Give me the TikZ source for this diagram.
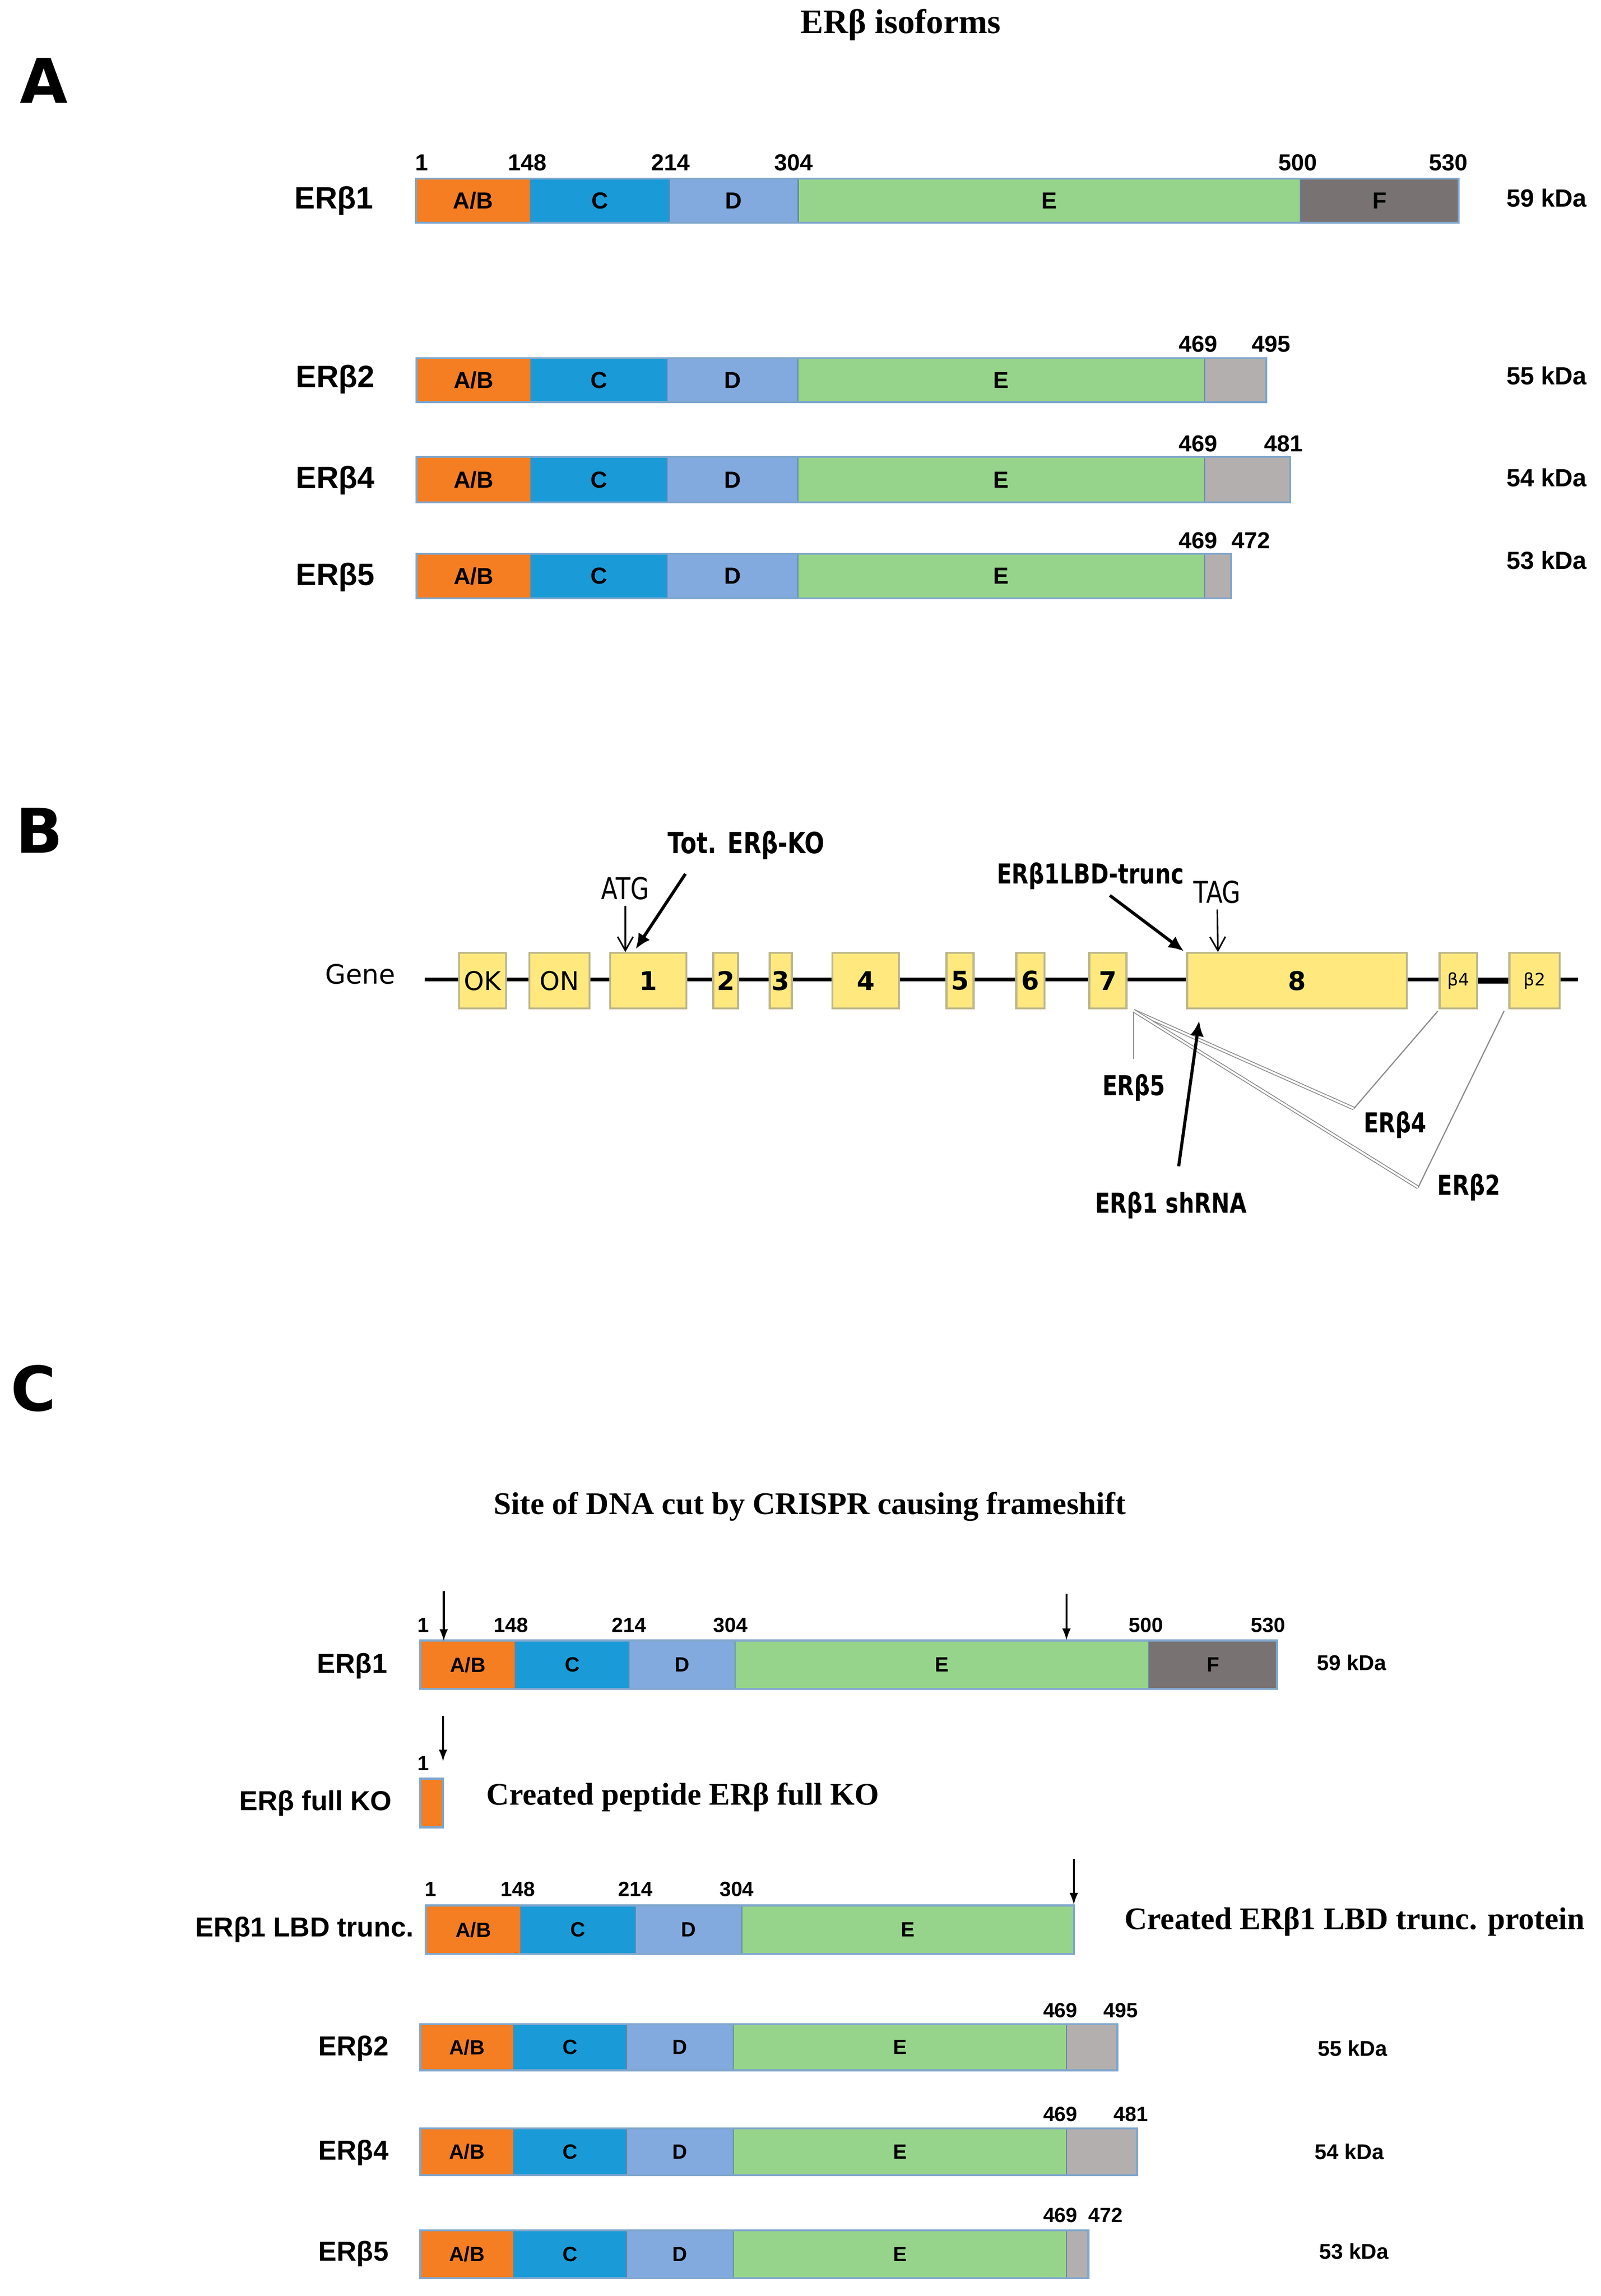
\documentclass[tikz,border=0pt]{standalone}
\usepackage{fontspec}
\usepackage{tikz}
\usetikzlibrary{arrows.meta}
\newfontfamily\arialfont{Liberation Sans}
\newfontfamily\timesfont{Liberation Serif}
\newfontfamily\dvfont{DejaVu Sans}
\newfontfamily\dvcond[FakeStretch=0.8]{DejaVu Sans}
\definecolor{abcol}{HTML}{F57E22}
\definecolor{ccol}{HTML}{1A9BD7}
\definecolor{dcol}{HTML}{83AADE}
\definecolor{ecol}{HTML}{97D48B}
\definecolor{fcol}{HTML}{787272}
\definecolor{tailcol}{HTML}{B4AFAF}
\definecolor{barline}{HTML}{7FA6CC}
\definecolor{segline}{HTML}{5F86A8}
\definecolor{exonfill}{HTML}{FFE97F}
\definecolor{exonline}{HTML}{BDB68A}
\definecolor{splicegray}{HTML}{8C8C8C}

\begin{document}
\begin{tikzpicture}[x=0.03cm, y=-0.03cm,
	seg/.style={draw=segline, line width=0.6pt},
	frame/.style={draw=barline, line width=1.2pt},
	exon/.style={draw=exonline, fill=exonfill, line width=1.2pt},
	letter/.style={font=\dvfont\bfseries\fontsize{36}{40}\selectfont},
	serif/.style={font=\timesfont\bfseries\fontsize{18.3}{20}\selectfont},
	segA/.style={font=\arialfont\bfseries\fontsize{13.5}{15}\selectfont},
	numA/.style={font=\arialfont\bfseries\fontsize{13.5}{15}\selectfont},
	isoA/.style={font=\arialfont\bfseries\fontsize{18}{20}\selectfont},
	kdaA/.style={font=\arialfont\bfseries\fontsize{14.5}{16}\selectfont},
	segC/.style={font=\arialfont\bfseries\fontsize{12}{14}\selectfont},
	numC/.style={font=\arialfont\bfseries\fontsize{12}{14}\selectfont},
	isoC/.style={font=\arialfont\bfseries\fontsize{16}{18}\selectfont},
	kdaC/.style={font=\arialfont\bfseries\fontsize{12.5}{14}\selectfont},
	gtxt/.style={font=\dvcond\fontsize{17.5}{19}\selectfont},
	gbold/.style={font=\dvcond\bfseries\fontsize{16}{18}\selectfont},
	thinarr/.style={-{Straight Barb[length=8pt,width=9pt]}, line width=0.9pt},
	thickarr/.style={-{Latex[length=9pt,width=8pt]}, line width=1.8pt},
	cutarr/.style={-{Latex[length=7pt,width=5pt]}, line width=1.1pt},
	splice/.style={draw=splicegray, line width=0.7pt},
	splicedbl/.style={draw=splicegray, line width=0.5pt, double=white, double distance=1.1pt}]
	\useasboundingbox (0,0) rectangle (1093,1567.5);

	%%%%%%%%%%%%%%%% PANEL A %%%%%%%%%%%%%%%%
	\node[letter] (lettA) at (30,55) {A};
	\node[serif, font=\timesfont\bfseries\fontsize{20}{22}\selectfont] (titleA) at (615,17) {ERβ isoforms};
	%
	% ERb1
	\draw[seg, fill=abcol] (284,122) rectangle node[segA] (a1ab) {A/B} (362,152);
	\draw[seg, fill=ccol] (362,122) rectangle node[segA] (a1c) {C} (457,152);
	\draw[seg, fill=dcol] (457,122) rectangle node[segA] (a1d) {D} (545,152);
	\draw[seg, fill=ecol] (545,122) rectangle node[segA] (a1e) {E} (888,152);
	\draw[seg, fill=fcol] (888,122) rectangle node[segA] (a1f) {F} (996,152);
	\draw[frame] (284,122) rectangle (996,152);
	\node[numA] (a1n1) at (288,111) {1};
	\node[numA] (a1n148) at (360,111) {148};
	\node[numA] (a1n214) at (458,111) {214};
	\node[numA] (a1n304) at (542,111) {304};
	\node[numA] (a1n500) at (886,111) {500};
	\node[numA] (a1n530) at (989,111) {530};
	\node[isoA] (a1name) at (228,137) {ERβ1};
	\node[kdaA] (a1kda) at (1056,135) {59 kDa};
	%
	% ERb2
	\draw[seg, fill=abcol] (284.5,244.5) rectangle node[segA] (a2ab) {A/B} (362.4,274.5);
	\draw[seg, fill=ccol] (362.4,244.5) rectangle node[segA] (a2c) {C} (455.5,274.5);
	\draw[seg, fill=dcol] (455.5,244.5) rectangle node[segA] (a2d) {D} (544.8,274.5);
	\draw[seg, fill=ecol] (544.8,244.5) rectangle node[segA] (a2e) {E} (822.5,274.5);
	\draw[seg, fill=tailcol] (822.5,244.5) rectangle (864.4,274.5);
	\draw[frame] (284.5,244.5) rectangle (864.4,274.5);
	\node[numA] (a2n469) at (818,235) {469};
	\node[numA] (a2n495) at (868,235) {495};
	\node[isoA] (a2name) at (229,259) {ERβ2};
	\node[kdaA] (a2kda) at (1056,256.5) {55 kDa};
	%
	% ERb4
	\draw[seg, fill=abcol] (284.5,312) rectangle node[segA] (a4ab) {A/B} (362.4,343);
	\draw[seg, fill=ccol] (362.4,312) rectangle node[segA] (a4c) {C} (455.5,343);
	\draw[seg, fill=dcol] (455.5,312) rectangle node[segA] (a4d) {D} (544.8,343);
	\draw[seg, fill=ecol] (544.8,312) rectangle node[segA] (a4e) {E} (822.5,343);
	\draw[seg, fill=tailcol] (822.5,312) rectangle (881,343);
	\draw[frame] (284.5,312) rectangle (881,343);
	\node[numA] (a4n469) at (818,303) {469};
	\node[numA] (a4n481) at (876.5,303) {481};
	\node[isoA] (a4name) at (229,328) {ERβ4};
	\node[kdaA] (a4kda) at (1056,326) {54 kDa};
	%
	% ERb5
	\draw[seg, fill=abcol] (284.5,378) rectangle node[segA] (a5ab) {A/B} (362.4,408.5);
	\draw[seg, fill=ccol] (362.4,378) rectangle node[segA] (a5c) {C} (455.5,408.5);
	\draw[seg, fill=dcol] (455.5,378) rectangle node[segA] (a5d) {D} (544.8,408.5);
	\draw[seg, fill=ecol] (544.8,378) rectangle node[segA] (a5e) {E} (822.5,408.5);
	\draw[seg, fill=tailcol] (822.5,378) rectangle (840.5,408.5);
	\draw[frame] (284.5,378) rectangle (840.5,408.5);
	\node[numA] (a5n469) at (818,369) {469};
	\node[numA] (a5n472) at (854,369) {472};
	\node[isoA] (a5name) at (229,394) {ERβ5};
	\node[kdaA] (a5kda) at (1056,382.5) {53 kDa};

	%%%%%%%%%%%%%%%% PANEL B %%%%%%%%%%%%%%%%
	\node[letter] (lettB) at (27,567) {B};
	\node[font=\dvfont\fontsize{15.5}{17}\selectfont] (gene) at (246,665) {Gene};
	%
	% gene backbone
	\coordinate (gstart) at (290,668.6);
	\coordinate (gend) at (1077.6,668.6);
	\draw[line width=2.2pt] (gstart) -- (gend);
	\draw[line width=3.2pt] (1008.5,669.5) -- (1030.6,669.5); % thicker intron
	%
	% exons
	\draw[exon] (313.5,650.5) rectangle node[font=\dvfont\fontsize{15}{17}\selectfont] (exok) {OK} (345.5,688.5);
	\draw[exon] (361.5,650.5) rectangle node[font=\dvfont\fontsize{15}{17}\selectfont] (exon) {ON} (402.5,688.5);
	\draw[exon] (416.6,650.5) rectangle node[font=\dvfont\bfseries\fontsize{15}{17}\selectfont] (ex1) {1} (468.7,688.5);
	\draw[exon] (487,650.5) rectangle node[font=\dvfont\bfseries\fontsize{15}{17}\selectfont] (ex2) {2} (504,688.5);
	\draw[exon] (525.6,650.5) rectangle node[font=\dvfont\bfseries\fontsize{15}{17}\selectfont] (ex3) {3} (540.6,688.5);
	\draw[exon] (568.3,650.5) rectangle node[font=\dvfont\bfseries\fontsize{15}{17}\selectfont] (ex4) {4} (613.9,688.5);
	\draw[exon] (646.3,650.5) rectangle node[font=\dvfont\bfseries\fontsize{15}{17}\selectfont] (ex5) {5} (664.7,688.5);
	\draw[exon] (693.9,650.5) rectangle node[font=\dvfont\bfseries\fontsize{15}{17}\selectfont] (ex6) {6} (713.2,688.5);
	\draw[exon] (743.8,650.5) rectangle node[font=\dvfont\bfseries\fontsize{15}{17}\selectfont] (ex7) {7} (769.1,688.5);
	\draw[exon] (810.5,650.5) rectangle node[font=\dvfont\bfseries\fontsize{15}{17}\selectfont] (ex8) {8} (960.6,688.5);
	\draw[exon] (983,650.5) rectangle node[font=\dvfont\fontsize{10}{12}\selectfont] (exb4) {β4} (1008.5,688.5);
	\draw[exon] (1030.6,650.5) rectangle node[font=\dvfont\fontsize{10}{12}\selectfont] (exb2) {β2} (1065,688.5);
	%
	% labels above the gene
	\node[gtxt] (atg) at (427,606.5) {ATG};
	\node[gtxt] (tag) at (831,609) {TAG};
	\node[gbold, font=\dvcond\bfseries\fontsize{17}{19}\selectfont] (totko) at (509.5,577) {Tot. ERβ-KO};
	\node[gbold] (lbdtr) at (744.5,598) {ERβ1LBD-trunc};
	\coordinate (atgtip) at (427,650);
	\coordinate (tagtip) at (831.6,650);
	\coordinate (kotail) at (468,596.6);
	\coordinate (kotip) at (434,648);
	\coordinate (lbdtail) at (757.8,611.3);
	\coordinate (lbdtip) at (808.4,649.4);
	\draw[thinarr] (atg) -- (atgtip);
	\draw[thinarr] (tag) -- (tagtip);
	\draw[thickarr] (kotail) -- (kotip);
	\draw[thickarr] (lbdtail) -- (lbdtip);
	%
	% splice variants below the gene
	\coordinate (sp7) at (774,690);
	\coordinate (v5) at (774,723);
	\coordinate (v4) at (924.4,756.8);
	\coordinate (v2) at (968.3,810.7);
	\coordinate (b4foot) at (981.8,690.2);
	\coordinate (b2foot) at (1027,690.2);
	\draw[splice] (sp7) -- (v5);
	\draw[splicedbl] (sp7) -- (v4);
	\draw[splice] (v4) -- (b4foot);
	\draw[splicedbl] (sp7) -- (v2);
	\draw[splice] (v2) -- (b2foot);
	\node[gbold] (sv5) at (774.2,742.6) {ERβ5};
	\node[gbold] (sv4) at (952.6,767.9) {ERβ4};
	\node[gbold] (sv2) at (1003,810.5) {ERβ2};
	\node[gbold] (shrna) at (799.5,822.8) {ERβ1 shRNA};
	\coordinate (shtail) at (804.8,796.2);
	\coordinate (shtip) at (818.8,696.8);
	\draw[thickarr] (shtail) -- (shtip);

	%%%%%%%%%%%%%%%% PANEL C %%%%%%%%%%%%%%%%
	\node[letter] (lettC) at (23,948) {C};
	\node[serif] (titleC) at (553,1028.7) {Site of DNA cut by CRISPR causing frameshift};
	%
	% ERb1
	\draw[seg, fill=abcol] (287,1120) rectangle node[segC] (c1ab) {A/B} (351.8,1153);
	\draw[seg, fill=ccol] (351.8,1120) rectangle node[segC] (c1c) {C} (429.6,1153);
	\draw[seg, fill=dcol] (429.6,1120) rectangle node[segC] (c1d) {D} (501.8,1153);
	\draw[seg, fill=ecol] (501.8,1120) rectangle node[segC] (c1e) {E} (784.4,1153);
	\draw[seg, fill=fcol] (784.4,1120) rectangle node[segC] (c1f) {F} (872,1153);
	\draw[frame] (287,1120) rectangle (872,1153);
	\node[numC] (c1n1) at (289,1109.5) {1};
	\node[numC] (c1n148) at (348.8,1109.5) {148};
	\node[numC] (c1n214) at (429.6,1109.5) {214};
	\node[numC] (c1n304) at (498.8,1109.5) {304};
	\node[numC] (c1n500) at (782.6,1109.5) {500};
	\node[numC] (c1n530) at (866,1109.5) {530};
	\node[isoC] (c1name) at (240.5,1137.5) {ERβ1};
	\node[kdaC] (c1kda) at (923,1135) {59 kDa};
	\coordinate (cutatop) at (303,1086.4);
	\coordinate (cutatip) at (303,1120.5);
	\coordinate (cutbtop) at (728.2,1088);
	\coordinate (cutbtip) at (728.2,1120);
	\draw[cutarr] (cutatop) -- (cutatip);
	\draw[cutarr] (cutbtop) -- (cutbtip);
	%
	% ERb full KO
	\coordinate (kocuttop) at (302.5,1171.5);
	\coordinate (kocuttip) at (302.5,1202.7);
	\draw[cutarr] (kocuttop) -- (kocuttip);
	\node[numC] (kon1) at (289,1204) {1};
	\draw[seg, fill=abcol] (287,1214.4) rectangle (302.5,1247.5);
	\draw[frame] (287,1214.4) rectangle (302.5,1247.5);
	\node[isoC] (koname) at (215.5,1231) {ERβ full KO};
	\node[serif] (kotext) at (466.3,1227) {Created peptide ERβ full KO};
	%
	% ERb1 LBD trunc.
	\draw[seg, fill=abcol] (290.8,1300.8) rectangle node[segC] (ltab) {A/B} (355.6,1334);
	\draw[seg, fill=ccol] (355.6,1300.8) rectangle node[segC] (ltc) {C} (433.9,1334);
	\draw[seg, fill=dcol] (433.9,1300.8) rectangle node[segC] (ltd) {D} (506.7,1334);
	\draw[seg, fill=ecol] (506.7,1300.8) rectangle node[segC] (lte) {E} (733.2,1334);
	\draw[frame] (290.8,1300.8) rectangle (733.2,1334);
	\node[numC] (ltn1) at (293.9,1289.8) {1};
	\node[numC] (ltn148) at (353.7,1289.8) {148};
	\node[numC] (ltn214) at (433.9,1289.8) {214};
	\node[numC] (ltn304) at (503,1289.8) {304};
	\coordinate (ltcuttop) at (733.2,1269);
	\coordinate (ltcuttip) at (733.2,1300.5);
	\draw[cutarr] (ltcuttop) -- (ltcuttip);
	\node[isoC] (ltname) at (208,1317.4) {ERβ1 LBD trunc.};
	\node[serif] (lttext) at (925,1312) {Created ERβ1 LBD trunc. protein};
	%
	% ERb2
	\draw[seg, fill=abcol] (287,1381.9) rectangle node[segC] (c2ab) {A/B} (350.6,1413.4);
	\draw[seg, fill=ccol] (350.6,1381.9) rectangle node[segC] (c2c) {C} (427.8,1413.4);
	\draw[seg, fill=dcol] (427.8,1381.9) rectangle node[segC] (c2d) {D} (500.6,1413.4);
	\draw[seg, fill=ecol] (500.6,1381.9) rectangle node[segC] (c2e) {E} (728.3,1413.4);
	\draw[seg, fill=tailcol] (728.3,1381.9) rectangle (762.9,1413.4);
	\draw[frame] (287,1381.9) rectangle (762.9,1413.4);
	\node[numC] (c2n469) at (724,1372.5) {469};
	\node[numC] (c2n495) at (765.3,1372.5) {495};
	\node[isoC] (c2name) at (241.4,1398.4) {ERβ2};
	\node[kdaC] (c2kda) at (923.6,1398.4) {55 kDa};
	%
	% ERb4
	\draw[seg, fill=abcol] (287,1453.1) rectangle node[segC] (c4ab) {A/B} (350.6,1485);
	\draw[seg, fill=ccol] (350.6,1453.1) rectangle node[segC] (c4c) {C} (427.8,1485);
	\draw[seg, fill=dcol] (427.8,1453.1) rectangle node[segC] (c4d) {D} (500.6,1485);
	\draw[seg, fill=ecol] (500.6,1453.1) rectangle node[segC] (c4e) {E} (728.3,1485);
	\draw[seg, fill=tailcol] (728.3,1453.1) rectangle (776.4,1485);
	\draw[frame] (287,1453.1) rectangle (776.4,1485);
	\node[numC] (c4n469) at (724,1443.4) {469};
	\node[numC] (c4n481) at (772.1,1443.4) {481};
	\node[isoC] (c4name) at (241.4,1469.6) {ERβ4};
	\node[kdaC] (c4kda) at (921.4,1469) {54 kDa};
	%
	% ERb5
	\draw[seg, fill=abcol] (287,1522.7) rectangle node[segC] (c5ab) {A/B} (350.6,1555.2);
	\draw[seg, fill=ccol] (350.6,1522.7) rectangle node[segC] (c5c) {C} (427.8,1555.2);
	\draw[seg, fill=dcol] (427.8,1522.7) rectangle node[segC] (c5d) {D} (500.6,1555.2);
	\draw[seg, fill=ecol] (500.6,1522.7) rectangle node[segC] (c5e) {E} (728.3,1555.2);
	\draw[seg, fill=tailcol] (728.3,1522.7) rectangle (743.1,1555.2);
	\draw[frame] (287,1522.7) rectangle (743.1,1555.2);
	\node[numC] (c5n469) at (724,1512.4) {469};
	\node[numC] (c5n472) at (754.8,1512.4) {472};
	\node[isoC] (c5name) at (241.4,1538.7) {ERβ5};
	\node[kdaC] (c5kda) at (924.5,1537) {53 kDa};
\end{tikzpicture}
\end{document}
